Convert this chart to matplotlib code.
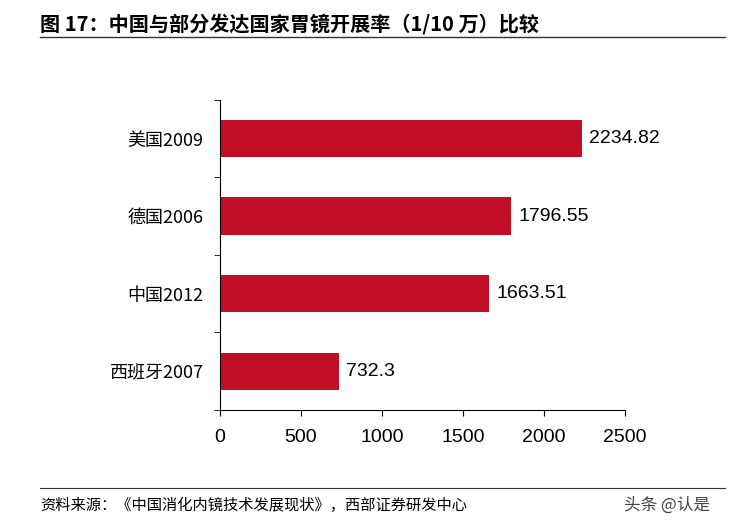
import matplotlib
matplotlib.use("Agg")
import matplotlib.pyplot as plt
plt.rcParams['font.family'] = ['Noto Sans CJK SC', 'DejaVu Sans']

categories = ["美国2009", "德国2006", "中国2012", "西班牙2007"]
values = [2234.82, 1796.55, 1663.51, 732.3]
labels = ["2234.82", "1796.55", "1663.51", "732.3"]
xticks = [0, 500, 1000, 1500, 2000, 2500]

fig = plt.figure(figsize=(7.36, 5.25), dpi=100)
ax = fig.add_axes([0.299, 0.219, 0.55, 0.591])
n = len(categories)
ypos = list(range(n))[::-1]
ax.barh(ypos, values, height=0.48, color="#C00E25")
for y, v, l in zip(ypos, values, labels):
    ax.text(v + 45, y, l, va="center", ha="left", fontsize=14, family="Liberation Sans")
ax.set_yticks(ypos)
ax.set_yticklabels(categories, fontsize=13)
ax.set_ylim(-0.5, n - 0.5)
ax.set_xlim(0, 2500)
ax.set_xticks(xticks)
ax.set_xticklabels([str(x) for x in xticks], fontsize=14, family="Liberation Sans")
ax.tick_params(axis='y', length=0, pad=12)
ax.tick_params(axis='x', length=4, pad=10)
for s in ["top", "right"]:
    ax.spines[s].set_visible(False)
ax.set_yticks([i - 0.5 for i in range(n + 1)], minor=True)
ax.tick_params(axis='y', which='minor', length=4, direction='out')

fig.text(0.055, 0.955, "图 17：中国与部分发达国家胃镜开展率（1/10 万）比较", fontsize=14.5,
         fontweight='bold', va="center", ha="left")
fig.add_artist(plt.Line2D([0.055, 0.985], [0.93, 0.93], color="#333333", lw=1))
fig.add_artist(plt.Line2D([0.055, 0.985], [0.07, 0.07], color="#333333", lw=0.8))
fig.text(0.055, 0.038, "资料来源：《中国消化内镜技术发展现状》，西部证券研发中心", fontsize=11,
         va="center", ha="left")
fig.text(0.965, 0.038, "头条 @认是", fontsize=12, va="center", ha="right", color="#444444")
fig.savefig("out.png", dpi=100)
